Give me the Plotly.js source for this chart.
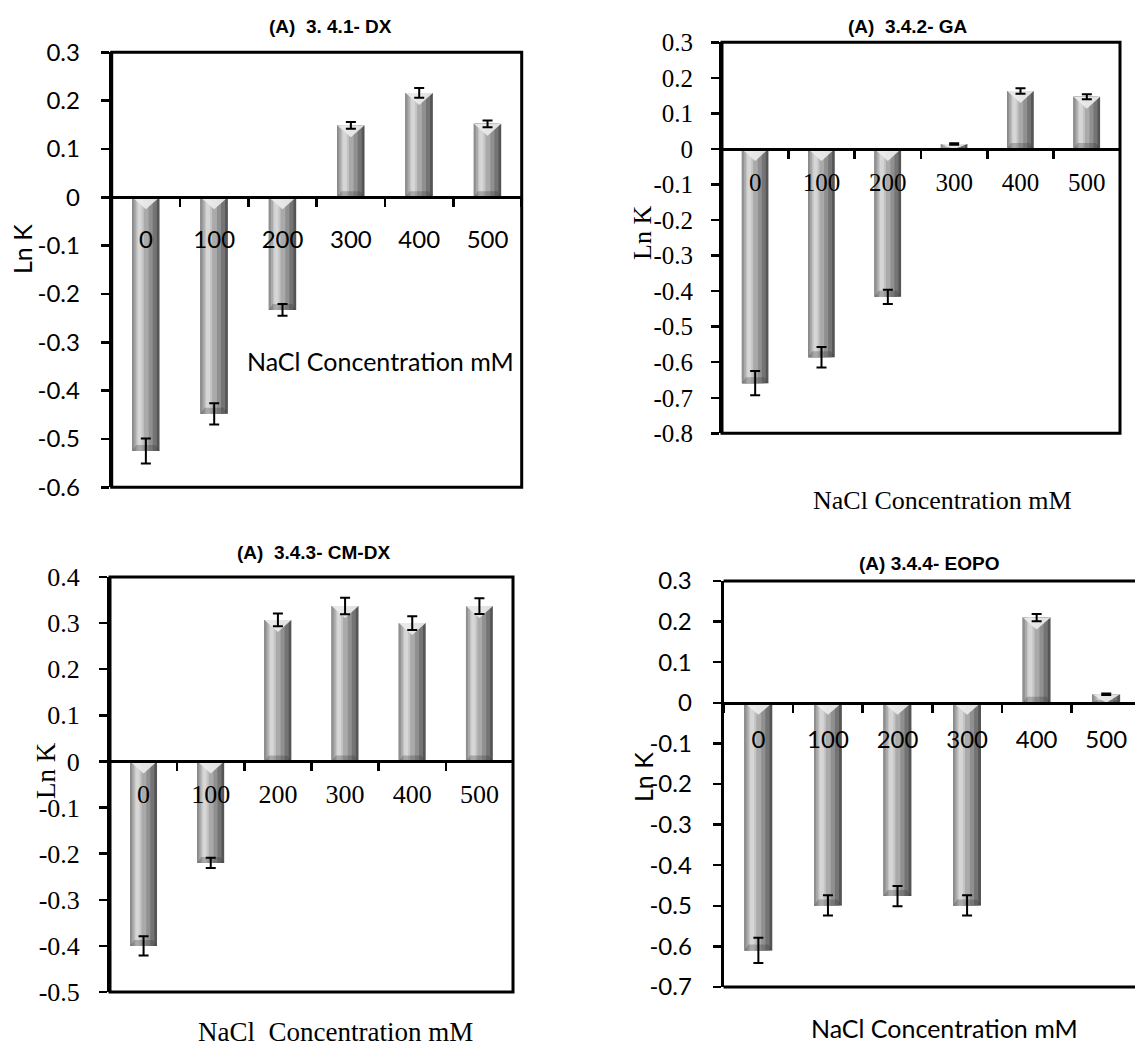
<!DOCTYPE html>
<html>
<head>
<meta charset="utf-8">
<script src="https://cdn.plot.ly/plotly-3.0.1.min.js"></script>
<style>
  html, body { margin: 0; padding: 0; background: #ffffff; }
  #chart { width: 1135px; height: 1051px; }
</style>
</head>
<body>
<div id="chart"></div>
<script>
// NaCl concentrations (mM) shared by all four panels
const concentrations = ['0', '100', '200', '300', '400', '500'];

// 3.4.1 DX
const dxLnK = [-0.525, -0.448, -0.233, 0.149, 0.216, 0.152];
const dxErr = [0.026, 0.022, 0.012, 0.007, 0.010, 0.007];
const dxTickVals = [0.3, 0.2, 0.1, 0, -0.1, -0.2, -0.3, -0.4, -0.5, -0.6];
const dxTickText = ['0.3', '0.2', '0.1', '0', '-0.1', '-0.2', '-0.3', '-0.4', '-0.5', '-0.6'];

// 3.4.2 GA
const gaLnK = [-0.659, -0.586, -0.416, 0.014, 0.163, 0.147];
const gaErr = [0.034, 0.029, 0.020, 0.002, 0.008, 0.007];
const gaTickVals = [0.3, 0.2, 0.1, 0, -0.1, -0.2, -0.3, -0.4, -0.5, -0.6, -0.7, -0.8];
const gaTickText = ['0.3', '0.2', '0.1', '0', '-0.1', '-0.2', '-0.3', '-0.4', '-0.5', '-0.6', '-0.7', '-0.8'];

// 3.4.3 CM-DX
const cmdxLnK = [-0.400, -0.220, 0.307, 0.337, 0.300, 0.337];
const cmdxErr = [0.021, 0.011, 0.014, 0.018, 0.015, 0.017];
const cmdxTickVals = [0.4, 0.3, 0.2, 0.1, 0, -0.1, -0.2, -0.3, -0.4, -0.5];
const cmdxTickText = ['0.4', '0.3', '0.2', '0.1', '0', '-0.1', '-0.2', '-0.3', '-0.4', '-0.5'];

// 3.4.4 EOPO
const eopoLnK = [-0.610, -0.499, -0.476, -0.499, 0.210, 0.021];
const eopoErr = [0.031, 0.025, 0.025, 0.025, 0.009, 0.002];
const eopoTickVals = [0.3, 0.2, 0.1, 0, -0.1, -0.2, -0.3, -0.4, -0.5, -0.6, -0.7];
const eopoTickText = ['0.3', '0.2', '0.1', '0', '-0.1', '-0.2', '-0.3', '-0.4', '-0.5', '-0.6', '-0.7'];

const panelTitles = ['(A)\u00a0 3. 4.1- DX', '(A)\u00a0 3.4.2- GA', '(A)\u00a0 3.4.3- CM-DX', '(A) 3.4.4- EOPO'];
const xTitles = ['NaCl Concentration mM', 'NaCl Concentration mM', 'NaCl\u00a0 Concentration mM', 'NaCl Concentration mM'];
const yTitle = 'Ln K';

// ---- page geometry and styling ----
const W = 1135, H = 1051;
const SANS = 'Lato, "Open Sans", sans-serif';
const SERIF = '"Liberation Serif", "Times New Roman", serif';
const TITLE_FONT = '"Liberation Sans", Arial, sans-serif';

const panels = [
  { values: dxLnK, errors: dxErr, tickVals: dxTickVals, tickText: dxTickText,
    box: { l: 111.7, r: 521.7, t: 52.3, b: 487.3 }, font: SANS, size: 24,
    titleAt: [330, 27], yTitleAt: [22, 249], xTitleAt: [380, 361], xTitleSize: 25,
    yStand: 16, xStand: 20, closedRight: true },
  { values: gaLnK, errors: gaErr, tickVals: gaTickVals, tickText: gaTickText,
    box: { l: 722, r: 1120, t: 42.3, b: 433.3 }, font: SERIF, size: 25,
    titleAt: [908, 27], yTitleAt: [643, 233], xTitleAt: [942, 500], xTitleSize: 26,
    yStand: 13, xStand: 10, closedRight: true },
  { values: cmdxLnK, errors: cmdxErr, tickVals: cmdxTickVals, tickText: cmdxTickText,
    box: { l: 110, r: 513, t: 577, b: 992 }, font: SERIF, size: 26,
    titleAt: [313, 552], yTitleAt: [46, 771], xTitleAt: [335, 1032], xTitleSize: 27,
    yStand: 14, xStand: 8, closedRight: true },
  { values: eopoLnK, errors: eopoErr, tickVals: eopoTickVals, tickText: eopoTickText,
    box: { l: 723.6, r: 1141, t: 581, b: 987 }, font: SANS, size: 24,
    titleAt: [929, 563], yTitleAt: [643, 777], xTitleAt: [944, 1028], xTitleSize: 25,
    yStand: 16, xStand: 14, closedRight: false }
];

// shaded cylinder look: stacked strips, [left, right] relative to bar centre
const strips = [
  { from: -0.20, to: 0.20, color: '#555555' },
  { from: -0.20, to: 0.16, color: '#747474' },
  { from: -0.20, to: 0.10, color: '#909090' },
  { from: -0.17, to: 0.04, color: '#aaaaaa' },
  { from: -0.14, to: -0.03, color: '#c4c4c4' },
  { from: -0.12, to: -0.06, color: '#d6d6d6' }
];
const HALF = 0.2;

const traces = [];
const layout = {
  width: W, height: H,
  margin: { l: 0, r: 0, t: 0, b: 0 },
  paper_bgcolor: '#ffffff', plot_bgcolor: 'rgba(0,0,0,0)',
  showlegend: false, barmode: 'overlay',
  shapes: [], annotations: []
};

panels.forEach((p, k) => {
  const n = k + 1;
  const xa = 'x' + (n > 1 ? n : '');
  const ya = 'y' + (n > 1 ? n : '');
  const idx = concentrations.map((_, i) => i);
  const boundaries = concentrations.map((_, i) => i - 0.5).concat([concentrations.length - 0.5]);

  const yMin = Math.min(...p.tickVals), yMax = Math.max(...p.tickVals);
  const right = Math.min(p.box.r, W);
  const catPx = (p.box.r - p.box.l) / concentrations.length;
  const xRange = [-0.5, -0.5 + (right - p.box.l) / catPx];
  const xDom = [p.box.l / W, right / W];
  const yDom = [1 - p.box.b / H, 1 - p.box.t / H];
  const zeroPos = yDom[0] + (0 - yMin) / (yMax - yMin) * (yDom[1] - yDom[0]);
  const pxPerUnit = (p.box.b - p.box.t) / (yMax - yMin);

  // bars
  strips.forEach(s => {
    traces.push({
      type: 'bar', x: idx, y: p.values, xaxis: xa, yaxis: ya,
      width: s.to - s.from, offset: s.from,
      marker: { color: s.color, line: { width: 0 } },
      hoverinfo: 'skip'
    });
  });

  // bevels: light wedge at the upper end, darker band at the lower end
  const tx = [], ty = [], bx = [], by = [];
  p.values.forEach((v, i) => {
    const top = Math.max(0, v), bottom = Math.min(0, v);
    const depth = Math.min(12 / pxPerUnit, Math.abs(v));
    tx.push(i - HALF, i + HALF, i, i - HALF, null);
    ty.push(top, top, top - depth, top, null);
    const band = Math.min(6 / pxPerUnit, Math.abs(v) / 3);
    bx.push(i - HALF, i + HALF, i + HALF - 0.06, i - HALF + 0.06, i - HALF, null);
    by.push(bottom, bottom, bottom + band, bottom + band, bottom, null);
  });
  traces.push({
    type: 'scatter', mode: 'lines', x: bx, y: by, xaxis: xa, yaxis: ya,
    fill: 'toself', fillcolor: 'rgba(50,50,50,0.28)', line: { width: 0 },
    hoverinfo: 'skip'
  });
  traces.push({
    type: 'scatter', mode: 'lines', x: tx, y: ty, xaxis: xa, yaxis: ya,
    fill: 'toself', fillcolor: 'rgba(236,236,236,0.92)', line: { width: 0 },
    hoverinfo: 'skip'
  });

  // error bars
  traces.push({
    type: 'scatter', mode: 'markers', x: idx, y: p.values, xaxis: xa, yaxis: ya,
    marker: { size: 1, color: 'rgba(0,0,0,0)' },
    error_y: { type: 'data', array: p.errors, visible: true, color: '#000000', thickness: 2, width: 5 },
    hoverinfo: 'skip'
  });

  const tickFont = { family: p.font, size: p.size, color: '#000000' };

  layout['xaxis' + (n > 1 ? n : '')] = {
    type: 'linear', domain: xDom, range: xRange,
    anchor: 'free', position: zeroPos,
    showline: true, linewidth: 3, linecolor: '#000000',
    showgrid: false, zeroline: false,
    tickmode: 'array', tickvals: idx, ticktext: concentrations,
    ticks: '', ticklabelstandoff: p.xStand, tickfont: tickFont,
    minor: { tickmode: 'array', tickvals: boundaries, ticks: 'outside',
             ticklen: 8, tickwidth: 2.5, tickcolor: '#000000', showgrid: false },
    fixedrange: true
  };
  layout['yaxis' + (n > 1 ? n : '')] = {
    domain: yDom, range: [yMin, yMax], anchor: xa,
    showline: true, linewidth: 3, linecolor: '#000000',
    showgrid: false, zeroline: false,
    ticks: 'outside', ticklen: 8, tickwidth: 2.5, tickcolor: '#000000',
    tickmode: 'array', tickvals: p.tickVals, ticktext: p.tickText,
    ticklabelstandoff: p.yStand, tickfont: tickFont,
    fixedrange: true
  };

  // plot-area frame
  const xref = xa + ' domain', yref = ya + ' domain';
  if (p.closedRight) {
    layout.shapes.push({ type: 'rect', xref, yref, x0: 0, x1: 1, y0: 0, y1: 1,
      line: { color: '#000000', width: 3 }, fillcolor: 'rgba(0,0,0,0)', layer: 'above' });
  } else {
    layout.shapes.push({ type: 'line', xref, yref, x0: 0, x1: 1, y0: 1, y1: 1,
      line: { color: '#000000', width: 3 }, layer: 'above' });
    layout.shapes.push({ type: 'line', xref, yref, x0: 0, x1: 1, y0: 0, y1: 0,
      line: { color: '#000000', width: 3 }, layer: 'above' });
  }

  // panel title and axis titles
  const at = (pt) => ({ x: pt[0] / W, y: 1 - pt[1] / H });
  layout.annotations.push(Object.assign(at(p.titleAt), {
    xref: 'paper', yref: 'paper', xanchor: 'center', yanchor: 'middle', showarrow: false,
    text: '<b>' + panelTitles[k] + '</b>',
    font: { family: TITLE_FONT, size: 19, color: '#000000' }
  }));
  layout.annotations.push(Object.assign(at(p.yTitleAt), {
    xref: 'paper', yref: 'paper', xanchor: 'center', yanchor: 'middle', showarrow: false,
    text: yTitle, textangle: -90,
    font: { family: p.font, size: p.size + 1, color: '#000000' }
  }));
  layout.annotations.push(Object.assign(at(p.xTitleAt), {
    xref: 'paper', yref: 'paper', xanchor: 'center', yanchor: 'middle', showarrow: false,
    text: xTitles[k],
    font: { family: p.font, size: p.xTitleSize, color: '#000000' }
  }));
});

Plotly.newPlot('chart', traces, layout, { displayModeBar: false, staticPlot: true });
</script>
</body>
</html>
